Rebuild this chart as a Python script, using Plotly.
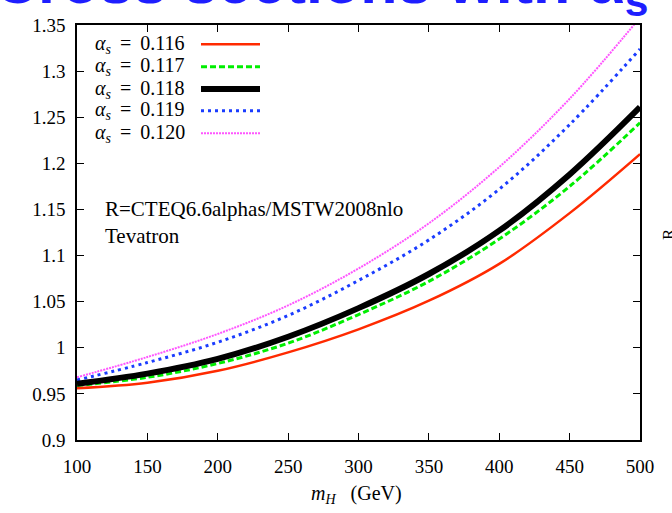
import plotly.graph_objects as go

# ---- data ----
mH = [100, 150, 200, 250, 300, 350, 400, 450, 500]
r_0116 = [0.956, 0.962, 0.975, 0.995, 1.020, 1.051, 1.091, 1.146, 1.210]
r_0117 = [0.959, 0.968, 0.983, 1.005, 1.036, 1.072, 1.118, 1.175, 1.244]
r_0118 = [0.961, 0.972, 0.988, 1.012, 1.043, 1.080, 1.127, 1.188, 1.261]
r_0119 = [0.965, 0.984, 1.006, 1.035, 1.073, 1.117, 1.172, 1.242, 1.324]
r_0120 = [0.968, 0.990, 1.015, 1.046, 1.086, 1.135, 1.196, 1.270, 1.358]
labels = ["0.116", "0.117", "0.118", "0.119", "0.120"]
x_ticks = [100, 150, 200, 250, 300, 350, 400, 450, 500]
y_ticks = [0.9, 0.95, 1.0, 1.05, 1.1, 1.15, 1.2, 1.25, 1.3, 1.35]

series = [r_0116, r_0117, r_0118, r_0119, r_0120]
styles = [
    dict(color="#ff2a00", width=2.5, dash="solid"),
    dict(color="#00ee00", width=3, dash="6px,3px"),
    dict(color="#000000", width=6, dash="solid"),
    dict(color="#1a3cff", width=3, dash="3px,4px"),
    dict(color="#ff55ff", width=2, dash="2px,1px"),
]

W, H = 672, 513
L, R, T, B = 77, 32, 25, 73
pw, ph = W - L - R, H - T - B

def px(x):
    return (x - L) / pw

def py(y):
    return (H - B - y) / ph

SERIF = "Liberation Serif, Times New Roman, serif"

fig = go.Figure()
draw_order = [4, 3, 1, 2, 0]
for i in draw_order:
    fig.add_trace(go.Scatter(x=mH, y=series[i], mode="lines",
                             line=dict(shape="spline", smoothing=1.0, **styles[i]),
                             showlegend=False, name=labels[i]))

annotations = []
shapes = []
# manual gnuplot-style legend: text then sample line
row_y = [44.3, 66.7, 89, 110.7, 133.3]
for i, lab in enumerate(labels):
    annotations.append(dict(
        x=px(187), y=py(row_y[i]), xref="paper", yref="paper",
        xanchor="right", yanchor="middle", showarrow=False,
        text="<i>α</i><sub><i>s</i></sub>\u2009 = \u2009" + lab,
        font=dict(family=SERIF, size=20, color="black")))
    st = styles[i]
    shapes.append(dict(type="line", xref="paper", yref="paper",
                       x0=px(201), x1=px(260), y0=py(row_y[i]), y1=py(row_y[i]),
                       line=dict(color=st["color"], width=st["width"], dash=st["dash"])))

annotations.append(dict(x=px(103), y=py(209), xref="paper", yref="paper",
                        xanchor="left", yanchor="middle", showarrow=False,
                        text="R=CTEQ6.6alphas/MSTW2008nlo",
                        font=dict(family=SERIF, size=21, color="black")))
annotations.append(dict(x=px(103), y=py(236), xref="paper", yref="paper",
                        xanchor="left", yanchor="middle", showarrow=False,
                        text="Tevatron",
                        font=dict(family=SERIF, size=21, color="black")))
# x-axis title
annotations.append(dict(x=px(356), y=py(494), xref="paper", yref="paper",
                        xanchor="center", yanchor="middle", showarrow=False,
                        text="<i>m</i><sub><i>H</i></sub>\u2002 (GeV)",
                        font=dict(family=SERIF, size=20, color="black")))
# clipped slide title at the very top
annotations.append(dict(x=px(-8), y=py(27), xref="paper", yref="paper",
                        xanchor="left", yanchor="bottom", showarrow=False,
                        text="<b>Cross sections with α<sub>s</sub></b>",
                        font=dict(family="Liberation Sans, Arial, sans-serif", size=61, color="#1e1eff")))
# clipped neighbour axis label
annotations.append(dict(x=px(668), y=py(234), xref="paper", yref="paper",
                        xanchor="center", yanchor="middle", showarrow=False,
                        textangle=-90, text="R",
                        font=dict(family=SERIF, size=17, color="black")))

axis_common = dict(showline=True, linecolor="black", linewidth=1.5, mirror="ticks",
                   ticks="inside", ticklen=7, tickwidth=1, tickcolor="black",
                   showgrid=False, zeroline=False,
                   tickfont=dict(family=SERIF, size=19, color="black"))

fig.update_layout(
    width=W, height=H, margin=dict(l=L, r=R, t=T, b=B),
    paper_bgcolor="white", plot_bgcolor="white",
    xaxis=dict(range=[100, 500], tickvals=x_ticks, ticklabelstandoff=8, **axis_common),
    yaxis=dict(range=[0.9, 1.35], tickvals=y_ticks,
               ticktext=[f"{v:g}" for v in y_ticks], ticklabelstandoff=6, **axis_common),
    annotations=annotations, shapes=shapes, showlegend=False,
)

fig.write_html("out.html")
